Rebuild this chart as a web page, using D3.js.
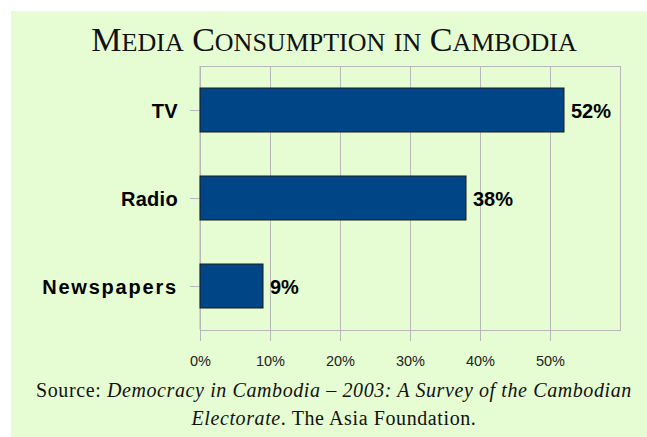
<!DOCTYPE html>
<html>
<head>
<meta charset="utf-8">
<script src="https://cdn.jsdelivr.net/npm/d3@7"></script>
<style>
  html, body { margin: 0; padding: 0; background: #ffffff; }
  svg { display: block; }
</style>
</head>
<body>
<svg id="chart" width="647" height="437"></svg>
<script>
// Survey shares by medium
const categories = ["TV", "Radio", "Newspapers"];
const shares = [0.52, 0.38, 0.09];
const xTicks = [0, 0.1, 0.2, 0.3, 0.4, 0.5];

// title words: [capital initial, small-cap remainder]
const titleWords = [["M", "EDIA"], ["C", "ONSUMPTION"], ["", "IN"], ["C", "AMBODIA"]];
const sourceLead = "Source: ";
const sourceTitle1 = "Democracy in Cambodia \u2013 2003: A Survey of the Cambodian";
const sourceTitle2 = "Electorate";
const sourceTail = ". The Asia Foundation.";

const svg = d3.select("#chart");
const W = 647, H = 437;
const plot = { left: 200, right: 620, top: 66, bottom: 330 };
const cx = 334;

// panel background
svg.append("rect").attr("x", 11).attr("y", 11).attr("width", W - 11).attr("height", H - 11)
  .attr("fill", "#e6fcd2");

// title in small capitals
const title = svg.append("text").attr("x", cx).attr("y", 51)
  .attr("text-anchor", "middle")
  .attr("font-family", "'Liberation Serif', 'Times New Roman', serif")
  .attr("fill", "#111");
titleWords.forEach(([big, small], i) => {
  title.append("tspan").attr("font-size", 34).text((i > 0 ? " " : "") + big);
  title.append("tspan").attr("font-size", 26).text(small);
});

const x = d3.scaleLinear().domain([0, 0.6]).range([plot.left, plot.right]);
const y = d3.scaleBand().domain(categories).range([plot.top, plot.bottom]).paddingInner(0.5).paddingOuter(0.25);

// gridlines
svg.append("g").selectAll("line").data(xTicks.concat([0.6])).join("line")
  .attr("x1", d => x(d)).attr("x2", d => x(d))
  .attr("y1", plot.top).attr("y2", plot.bottom)
  .attr("stroke", "#b8b8b8").attr("stroke-width", 1).attr("shape-rendering", "crispEdges");

// plot frame
svg.append("rect").attr("x", plot.left).attr("y", plot.top)
  .attr("width", plot.right - plot.left).attr("height", plot.bottom - plot.top)
  .attr("fill", "none").attr("stroke", "#b8b8b8").attr("shape-rendering", "crispEdges");

// x axis
const xAxis = d3.axisBottom(x).tickValues(xTicks).tickFormat(d3.format(".0%")).tickSize(11).tickPadding(15);
const gx = svg.append("g").attr("transform", `translate(0,${plot.bottom})`).call(xAxis);
gx.select(".domain").remove();
gx.selectAll(".tick line").attr("stroke", "#b8b8b8").attr("shape-rendering", "crispEdges");
gx.selectAll(".tick text").attr("font-family", "'Liberation Sans', Arial, sans-serif")
  .attr("font-size", 14.5).attr("fill", "#222");

// y axis
const yAxis = d3.axisLeft(y).tickSize(10).tickPadding(12);
const gy = svg.append("g").attr("transform", `translate(${plot.left},0)`).call(yAxis);
gy.select(".domain").attr("stroke", "#b8b8b8").attr("d", `M0,${plot.top}V${plot.bottom}`);
gy.selectAll(".tick line").attr("stroke", "#b8b8b8").attr("shape-rendering", "crispEdges");
gy.selectAll(".tick text").attr("font-family", "'Liberation Sans', Arial, sans-serif")
  .attr("font-size", 20).attr("font-weight", "bold").attr("fill", "#000").attr("dy", "0.38em")
  .attr("letter-spacing", d => d === "Newspapers" ? 1.8 : 0.3);

// bars
svg.append("g").selectAll("rect").data(categories).join("rect")
  .attr("x", x(0)).attr("y", d => y(d))
  .attr("width", (d, i) => x(shares[i]) - x(0)).attr("height", y.bandwidth())
  .attr("fill", "#004586").attr("stroke", "#1a1a1a").attr("stroke-width", 1);

// value labels
svg.append("g").selectAll("text").data(categories).join("text")
  .attr("x", (d, i) => x(shares[i]) + 7).attr("y", d => y(d) + y.bandwidth() / 2)
  .attr("dy", "0.38em")
  .attr("font-family", "'Liberation Sans', Arial, sans-serif")
  .attr("font-size", 20).attr("font-weight", "bold").attr("fill", "#000")
  .text((d, i) => d3.format(".0%")(shares[i]));

// source note
const src = svg.append("g").attr("font-family", "'Liberation Serif', 'Times New Roman', serif")
  .attr("font-size", 20).attr("letter-spacing", 0.6).attr("fill", "#111").attr("text-anchor", "middle");
const l1 = src.append("text").attr("x", cx).attr("y", 397);
l1.append("tspan").text(sourceLead);
l1.append("tspan").attr("font-style", "italic").text(sourceTitle1);
const l2 = src.append("text").attr("x", cx).attr("y", 425);
l2.append("tspan").attr("font-style", "italic").text(sourceTitle2);
l2.append("tspan").text(sourceTail);
</script>
</body>
</html>
